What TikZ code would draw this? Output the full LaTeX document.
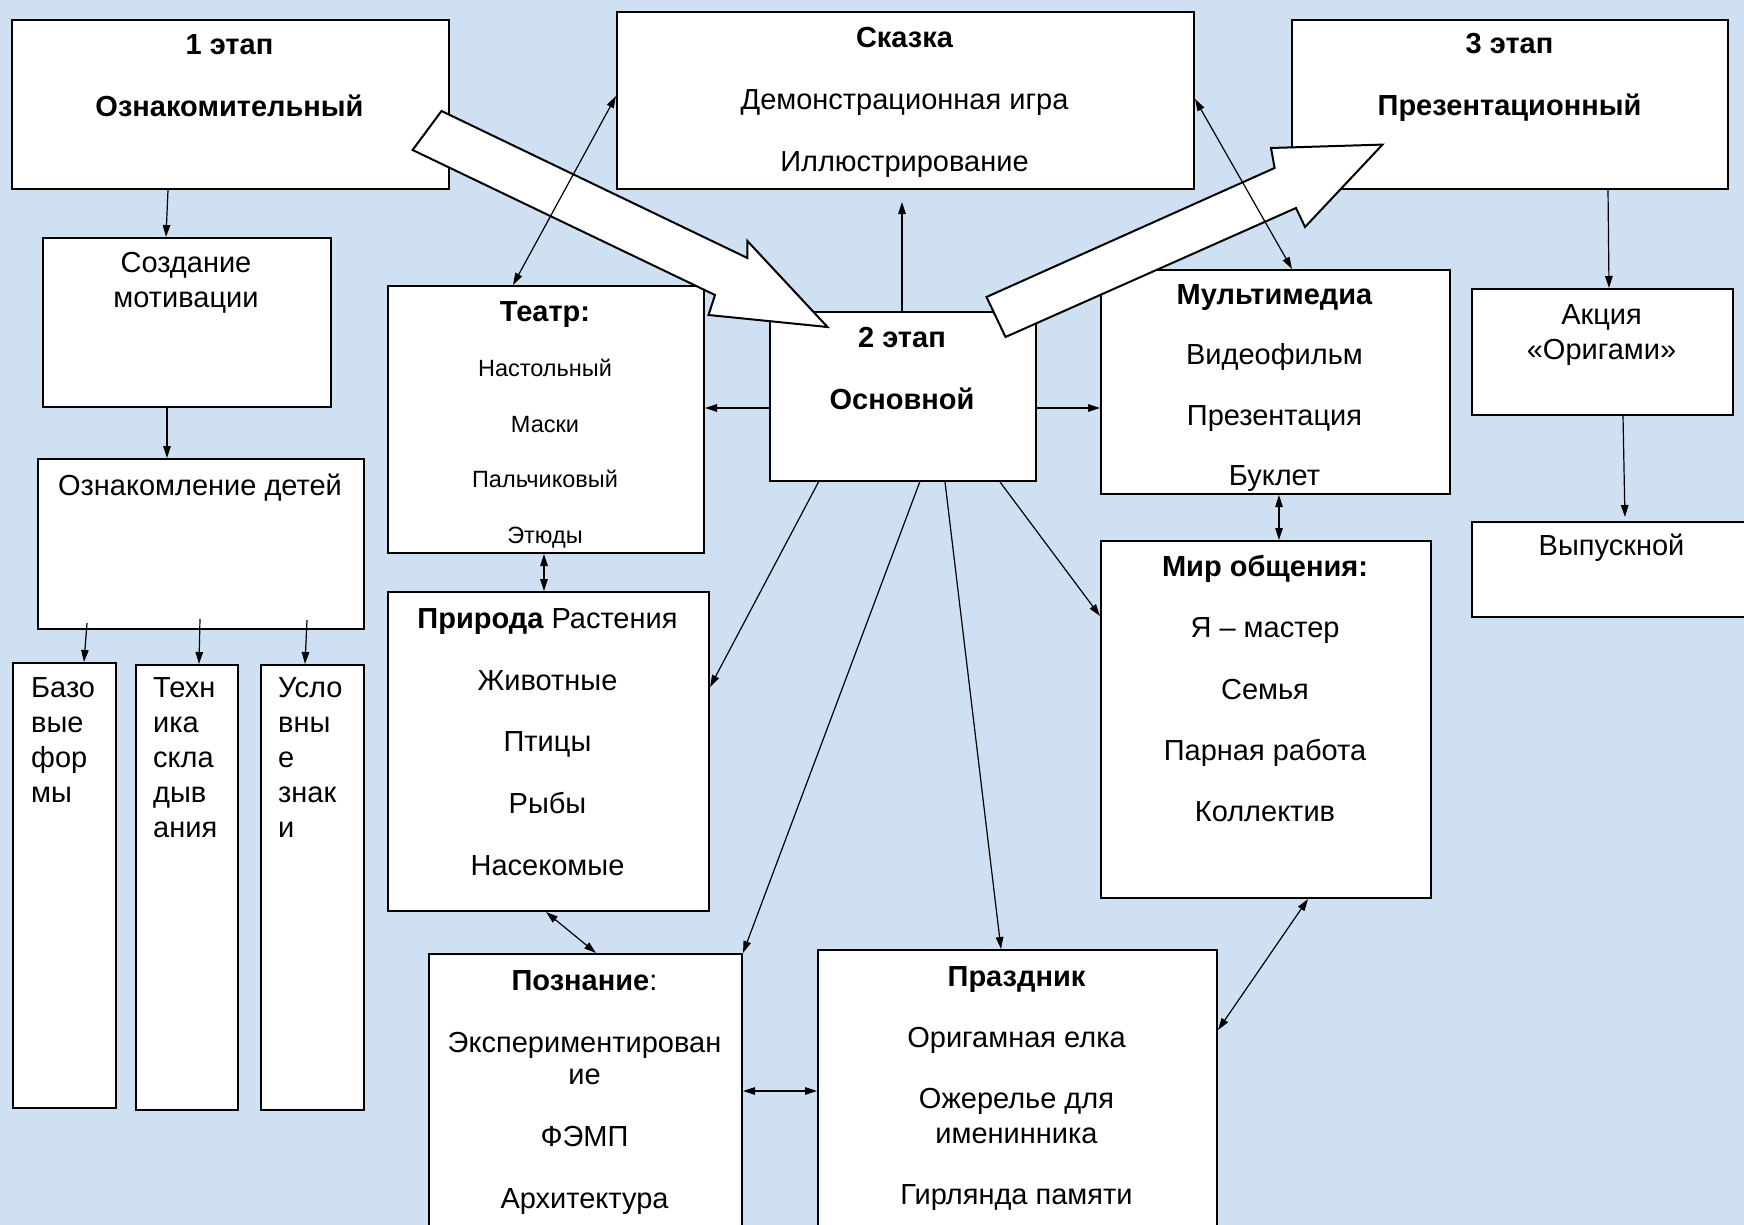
\documentclass[tikz,border=0pt]{standalone}
\usepackage{fontspec}
\setmainfont{Liberation Sans}
\usetikzlibrary{arrows.meta}
\definecolor{fonblue}{RGB}{207,224,242}
\begin{document}
\begin{tikzpicture}[x=1pt,y=-1pt,
  >={Triangle[length=12pt,width=7.5pt]},
  box/.style = {shape=rectangle, draw, line width=2pt, fill=white, anchor=north west, inner sep=0pt},
  txt/.style = {inner sep=0pt, anchor=north, align=center, font=\fontsize{29}{#1}\selectfont},
  txt/.default = 62,
  link/.style = {line width=1.2pt},
  bigarrow/.style = {draw, fill=white, line width=2pt, line join=miter}]

  \useasboundingbox (0,0) rectangle (1744,1225);
  \clip (0,0) rectangle (1744,1225);
  \fill[fonblue] (0,0) rectangle (1744,1225);

  % boxes
  \node[box, minimum width=437pt, minimum height=169pt] (s1) at (11,19) {};
  \node[box, minimum width=577pt, minimum height=177pt] (skazka) at (616,11) {};
  \node[box, minimum width=436pt, minimum height=169pt] (s3) at (1291,19) {};
  \node[box, minimum width=288pt, minimum height=169pt] (sozd) at (42,237) {};
  \node[box, minimum width=326pt, minimum height=170pt] (ozn) at (37,458) {};
  \node[box, minimum width=103pt, minimum height=445pt] (baz) at (12,662) {};
  \node[box, minimum width=102pt, minimum height=445pt] (tehn) at (135,664) {};
  \node[box, minimum width=103pt, minimum height=445pt] (uslov) at (260,664) {};
  \node[box, minimum width=316pt, minimum height=267pt] (teatr) at (387,285) {};
  \node[box, minimum width=321pt, minimum height=319pt] (priroda) at (387,591) {};
  \node[box, minimum width=266pt, minimum height=169pt] (s2) at (769,311) {};
  \node[box, minimum width=349pt, minimum height=224pt] (multi) at (1100,269) {};
  \node[box, minimum width=330pt, minimum height=357pt] (mir) at (1100,540) {};
  \node[box, minimum width=261pt, minimum height=126pt] (akcia) at (1471,288) {};
  \node[box, minimum width=290pt, minimum height=95pt] (vyp) at (1471,521) {};
  \node[box, minimum width=313pt, minimum height=290pt] (poznanie) at (428,953) {};
  \node[box, minimum width=399pt, minimum height=294pt] (prazdnik) at (817,949) {};

  % texts
  \node[txt] (s1t) at (229.5,34.5) {\bfseries 1 этап\\\bfseries Ознакомительный};
  \node[txt] (skazkat) at (904.5,27) {{\bfseries Сказка}\\Демонстрационная игра\\Иллюстрирование};
  \node[txt] (s3t) at (1509.5,33.5) {\bfseries 3 этап\\\bfseries Презентационный};
  \node[txt=35] (sozdt) at (186,252.5) {Создание\\мотивации};
  \node[txt] (oznt) at (200,473.5) {Ознакомление детей};
  \node[txt=35, anchor=north west, align=left] (bazt) at (31,677) {Базо\\вые\\фор\\мы};
  \node[txt=35, anchor=north west, align=left] (tehnt) at (153,677) {Техн\\ика\\скла\\дыв\\ания};
  \node[txt=35, anchor=north west, align=left] (uslovt) at (278,677) {Усло\\вны\\е\\знак\\и};
  \node[txt=55.5, font=\fontsize{23.5}{55.5}\selectfont] (teatrt) at (545,301)
    {{\fontsize{29}{55.5}\selectfont\bfseries Театр:}\\Настольный\\Маски\\Пальчиковый\\Этюды};
  \node[txt=61.6] (prirodat) at (547.5,608.5) {{\bfseries Природа} Растения\\Животные\\Птицы\\Рыбы\\Насекомые};
  \node[txt=62] (s2t) at (902,327.5) {\bfseries 2 этап\\\bfseries Основной};
  \node[txt=60.2] (multit) at (1274.5,284.5) {{\bfseries Мультимедиа}\\Видеофильм\\Презентация\\Буклет};
  \node[txt=61.3] (mirt) at (1265,555) {{\bfseries Мир общения:}\\Я – мастер\\Семья\\Парная работа\\Коллектив};
  \node[txt=35] (akciat) at (1601.5,304) {Акция\\«Оригами»};
  \node[txt] (vypt) at (1611.5,534) {Выпускной};
  \node[txt=32.5] (poznaniet) at (584.5,970)
    {{\bfseries Познание}:\\[29.5pt]Экспериментирован\\ие\\[29.5pt]ФЭМП\\[29.5pt]Архитектура};
  \node[txt=35] (prazdnikt) at (1016.5,966)
    {{\bfseries Праздник}\\[26pt]Оригамная елка\\[26pt]Ожерелье для\\именинника\\[26pt]Гирлянда памяти};

  % big arrows
  \draw[bigarrow] (441.5,111) -- (747.4,258) -- (747.4,241) -- (827.5,327)
    -- (708.5,315) -- (715,295) -- (412.6,150) -- cycle;
  \draw[bigarrow] (986.5,297) -- (1274.6,168) -- (1271,148) -- (1382.5,144.6)
    -- (1305,227) -- (1296,208) -- (1005.5,337) -- cycle;

  % connectors
  \draw[link,->] ([xshift=-62.5pt]s1.south) -- ([xshift=-21pt]sozd.north);
  \draw[link,->] ([xshift=-20pt]sozd.south) -- ([xshift=-34pt]ozn.north);
  \draw[link,->] ([xshift=-114pt,yshift=7pt]ozn.south) -- ([xshift=19.5pt]baz.north);
  \draw[link,->] ([xshift=-1pt,yshift=11pt]ozn.south) -- ([xshift=12pt]tehn.north);
  \draw[link,->] ([xshift=106pt,yshift=10pt]ozn.south) -- ([xshift=-7.5pt]uslov.north);
  \draw[link,->] ([xshift=98pt]s3.south) -- ([xshift=6.5pt]akcia.north);
  \draw[link,->,shorten >=4pt] ([xshift=20.5pt]akcia.south) -- ([xshift=8pt]vyp.north);
  \draw[link,<->] ([yshift=4.5pt]skazka.west) -- ([xshift=-33pt]teatr.north);
  \draw[link,<->] ([yshift=1.5pt]skazka.east) -- ([xshift=16.5pt]multi.north);
  \draw[link,->,shorten >=12pt] ([xshift=-1pt]s2.north) -- ([xshift=-3.5pt]skazka.south);
  \draw[link,->] ([yshift=-11.5pt]s2.west) -- ([yshift=11.5pt]teatr.east);
  \draw[link,->] ([yshift=-11.5pt]s2.east) -- ([yshift=-26pt]multi.west);
  \draw[link,<->] ([xshift=-2pt]teatr.south) -- ([xshift=-4.5pt]priroda.north);
  \draw[link,<->] ([xshift=3.5pt]multi.south) -- ([xshift=13pt]mir.north);
  \draw[link,->] ([xshift=-84.5pt]s2.south) -- ([yshift=64.5pt]priroda.east);
  \draw[link,->] ([xshift=16.7pt]s2.south) -- (poznanie.north east);
  \draw[link,->] ([xshift=42pt]s2.south) -- ([xshift=-16.5pt]prazdnik.north);
  \draw[link,->] ([xshift=97pt]s2.south) -- ([yshift=103.5pt]mir.west);
  \draw[link,<->] ([xshift=-2.5pt]priroda.south) -- ([xshift=10.5pt]poznanie.north);
  \draw[link,<->] ([yshift=8pt]poznanie.east) -- ([yshift=6pt]prazdnik.west);
  \draw[link,<->] ([xshift=42pt]mir.south) -- ([yshift=67pt]prazdnik.east);
\end{tikzpicture}
\end{document}
